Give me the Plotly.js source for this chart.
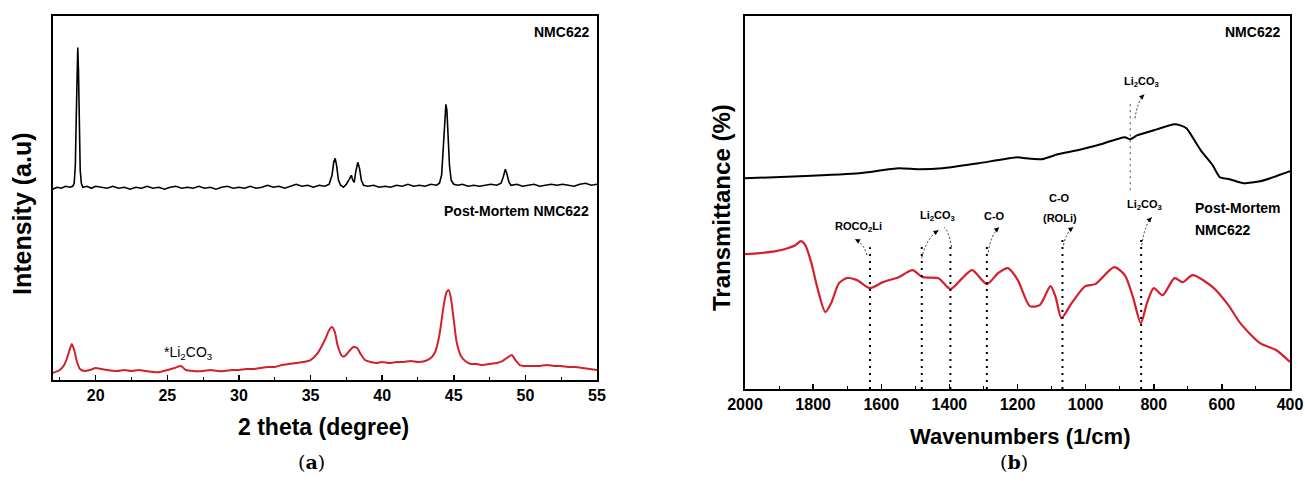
<!DOCTYPE html>
<html>
<head>
<meta charset="utf-8">
<script src="https://cdn.plot.ly/plotly-3.0.1.min.js"></script>
<style>html,body{margin:0;padding:0;background:#fff;}#chart{width:1305px;height:481px;}</style>
</head>
<body>
<div id="chart"></div>
<script>
// ---------- (a) XRD data ----------
const ncmTheta = [17.0,17.3,17.6,17.9,18.2,18.4,18.5,18.58,18.64,18.7,18.75,18.8,18.86,18.92,19.0,19.1,19.4,19.7,20.0,20.4,20.8,21.2,21.6,22.0,22.4,22.8,23.2,23.6,24.0,24.4,24.8,25.2,25.6,26.0,26.4,26.8,27.2,27.6,28.0,28.4,28.8,29.2,29.6,30.0,30.4,30.8,31.2,31.6,32.0,32.4,32.8,33.2,33.6,34.0,34.4,34.8,35.2,35.6,36.0,36.3,36.5,36.62,36.72,36.82,36.95,37.1,37.3,37.5,37.7,37.85,37.95,38.05,38.15,38.3,38.42,38.55,38.7,39.0,39.4,39.8,40.2,40.6,41.0,41.4,41.8,42.2,42.6,43.0,43.4,43.8,44.0,44.15,44.28,44.38,44.45,44.52,44.6,44.7,44.82,45.0,45.3,45.6,46.0,46.4,46.8,47.2,47.6,48.0,48.3,48.45,48.6,48.72,48.85,49.0,49.4,49.8,50.2,50.6,51.0,51.4,51.8,52.2,52.6,53.0,53.4,53.8,54.2,54.6,55.0];
const ncmIntensity = [191,193,192,194,193,194,197,215,260,315,333,310,250,210,197,193,194,192,194,193,192,194,192,193,191,193,192,194,192,193,191,193,194,192,193,192,194,192,193,191,193,194,192,193,192,194,192,193,195,193,194,192,194,196,194,195,193,195,194,196,205,218,222,215,200,195,193,196,201,205,200,198,208,218,212,200,195,194,195,193,194,193,195,194,196,194,195,194,196,195,197,205,235,265,276,270,245,215,200,196,195,196,194,195,194,195,196,195,197,203,211,206,198,195,196,194,195,196,194,195,196,195,196,195,194,196,197,195,196];
const pmTheta = [17.0,17.5,17.8,18.0,18.2,18.34,18.5,18.7,18.9,19.2,19.6,20.0,20.4,20.8,21.5,22.0,22.5,23.0,23.5,24.0,24.5,25.0,25.5,25.95,26.3,26.8,27.5,28.0,28.5,29.0,29.5,30.0,30.5,31.0,31.5,32.0,32.5,33.0,33.5,34.0,34.5,35.0,35.5,36.0,36.3,36.5,36.7,36.9,37.2,37.4,37.7,38.0,38.25,38.5,38.8,39.2,39.6,40.0,40.5,41.0,41.5,42.0,42.5,43.0,43.4,43.7,44.0,44.3,44.5,44.65,44.8,45.0,45.2,45.5,45.8,46.2,46.6,47.0,47.5,48.0,48.4,48.7,49.05,49.3,49.6,50.0,50.5,51.0,51.5,52.0,52.5,53.0,53.5,54.0,54.5,55.0];
const pmIntensity = [7,10,15,22,31,36,30,18,11,9,10,12,11,10,9,10,9,10,9,8,8,10,12,14,10,9,9,10,9,9,10,10,11,11,12,13,13,15,16,17,18,20,27,40,50,53,48,34,24,24,29,33,32,26,20,18,17,18,17,18,18,19,18,19,22,28,45,75,88,90,82,60,38,24,19,16,16,15,16,17,19,22,25,20,15,14,14,14,15,14,14,13,13,12,11,10];
const xrdTickVals = [20,25,30,35,40,45,50,55];
const xrdTickText = ['20','25','30','35','40','45','50','55'];
const xrdMinorVals = [17.5,22.5,27.5,32.5,37.5,42.5,47.5,52.5];

// ---------- (b) FTIR data ----------
const ftNcmWn = [2000,1840,1665,1549,1490,1420,1315,1199,1176,1130,1082,1024,966,885,869,849,791,740,722,704,662,627,606,577,536,487,441,400];
const ftNcmT  = [211,213,216,221,220,221,226,232,231,230,235,239,244,252,250,254,260,265,264,261,239,224,212,210,206,208,213,218];
const ftPmWn = [2000,1957,1910,1875,1852,1836,1823,1805,1788,1764,1747,1724,1701,1671,1633,1595,1549,1508,1479,1432,1397,1362,1333,1290,1257,1228,1199,1164,1135,1103,1088,1071,1041,1001,972,916,885,861,838,820,800,774,739,715,686,627,581,546,488,441,400];
const ftPmT  = [135,136,138,141,144,148,144,126,102,77,86,106,111,109,101,107,112,119,112,111,100,111,119,105,116,121,109,83,84,103,92,71,86,103,105,122,114,92,66,86,101,94,111,107,114,102,84,66,46,39,27];
const ftTickVals = [2000,1800,1600,1400,1200,1000,800,600,400];
const ftTickText = ['2000','1800','1600','1400','1200','1000','800','600','400'];
const ftMinorVals = [1900,1700,1500,1300,1100,900,700,500];

// band markers (post-mortem)
const bandWn  = [1633,1481,1397,1290,1068,837];
const bandTop = [142,147,144,147,152,154];
// band marker (pristine)
const upperBandWn = 869;
const upperBandRange = [199,286];

// label texts
const xrdLabels = ['NMC622','Post-Mortem NMC622','*Li<sub>2</sub>CO<sub>3</sub>'];
const ftLabels = ['ROCO<sub>2</sub>Li','Li<sub>2</sub>CO<sub>3</sub>','C-O','C-O','(ROLi)','Li<sub>2</sub>CO<sub>3</sub>','Li<sub>2</sub>CO<sub>3</sub>','NMC622','Post-Mortem','NMC622'];
const ftLabelWn = [1668,1434,1269,1076,1076,826,837,423,686,686];
const ftLabelT  = [162,173,173,191,171,184,307,357,181,159];
// arrows: tail (on band line) -> tip (at label)
const arrowTailWn = [1642,1481,1394,1286,1065,835,855];
const arrowTailT  = [134,131,142,137,144,144,271];
const arrowTipWn  = [1677,1432,1415,1254,1036,806,828];
const arrowTipT   = [150,159,162,162,162,172,295];

const FONT = 'Liberation Sans, Arial, sans-serif';
const RED = '#d4202b';

const traces = [
  {x: ncmTheta, y: ncmIntensity, xaxis:'x', yaxis:'y', type:'scatter', mode:'lines',
   line:{color:'#000', width:1.6}, hoverinfo:'skip'},
  {x: pmTheta, y: pmIntensity, xaxis:'x', yaxis:'y', type:'scatter', mode:'lines',
   line:{color:RED, width:2, shape:'spline', smoothing:0.6}, hoverinfo:'skip'},
  {x: ftNcmWn, y: ftNcmT, xaxis:'x2', yaxis:'y2', type:'scatter', mode:'lines',
   line:{color:'#000', width:2, shape:'spline', smoothing:0.5}, hoverinfo:'skip'},
  {x: ftPmWn, y: ftPmT, xaxis:'x2', yaxis:'y2', type:'scatter', mode:'lines',
   line:{color:RED, width:2.2, shape:'spline', smoothing:0.7}, hoverinfo:'skip'}
];

const W = 1305, H = 481;
const px = v => v / W, py = v => (H - v) / H;
const bold = arr => arr.map(t => '<b>' + t + '</b>');

const axBase = {
  showline:true, mirror:true, linecolor:'#000', linewidth:2,
  showgrid:false, zeroline:false, ticks:'inside', ticklen:5, tickwidth:1.5, tickcolor:'#000',
  tickfont:{family:FONT, size:16, color:'#000'}
};

const layout = {
  width:W, height:H, margin:{l:0,r:0,t:0,b:0},
  paper_bgcolor:'#fff', plot_bgcolor:'#fff', showlegend:false,
  xaxis: Object.assign({}, axBase, {domain:[px(52.7), px(597)], range:[17,55],
    tickmode:'array', tickvals:xrdTickVals, ticktext:bold(xrdTickText),
    minor:{ticks:'inside', tickmode:'array', tickvals:xrdMinorVals, ticklen:3, tickwidth:1, tickcolor:'#000'}, anchor:'y'}),
  yaxis: Object.assign({}, axBase, {domain:[py(380), py(15.5)], range:[0,365], ticks:'', showticklabels:false, anchor:'x'}),
  xaxis2: Object.assign({}, axBase, {domain:[px(745), px(1290)], range:[2000,400],
    tickmode:'array', tickvals:ftTickVals, ticktext:bold(ftTickText),
    minor:{ticks:'inside', tickmode:'array', tickvals:ftMinorVals, ticklen:3, tickwidth:1, tickcolor:'#000'}, anchor:'y2'}),
  yaxis2: Object.assign({}, axBase, {domain:[py(389), py(15.5)], range:[0,374], ticks:'', showticklabels:false, anchor:'x2'}),
  shapes: [], annotations: []
};

// titles
const titleFont = s => ({family:FONT, size:s, color:'#000'});
const paperNote = (x, y, text, font, extra) => Object.assign({xref:'paper', yref:'paper', x:px(x), y:py(y),
  xanchor:'center', yanchor:'middle', text:text, showarrow:false, font:font}, extra || {});
const capFont = {family:'DejaVu Serif, Liberation Serif, serif', size:19, color:'#000'};
layout.annotations.push(
  paperNote(323, 427, '<b>2 theta (degree)</b>', titleFont(23)),
  paperNote(1020, 436, '<b>Wavenumbers (1/cm)</b>', titleFont(22)),
  paperNote(22, 214, '<b>Intensity (a.u)</b>', titleFont(25), {textangle:-90}),
  paperNote(721, 208, '<b>Transmittance (%)</b>', titleFont(24), {textangle:-90}),
  paperNote(311, 462, '(<b>a</b>)', capFont),
  paperNote(1014, 462, '(<b>b</b>)', capFont)
);

// XRD labels
layout.annotations.push(
  {xref:'x', yref:'y', x:54.6, y:348, xanchor:'right', yanchor:'middle', text:'<b>' + xrdLabels[0] + '</b>', showarrow:false, font:{family:FONT, size:14, color:'#000'}},
  {xref:'x', yref:'y', x:54.6, y:169, xanchor:'right', yanchor:'middle', text:'<b>' + xrdLabels[1] + '</b>', showarrow:false, font:{family:FONT, size:14, color:'#000'}},
  {xref:'x', yref:'y', x:26.5, y:27, xanchor:'center', yanchor:'middle', text:xrdLabels[2], showarrow:false, font:{family:FONT, size:14, color:'#000'}}
);

// FTIR labels
ftLabels.forEach((t,i) => {
  const big = i >= 7;
  layout.annotations.push({
    xref:'x2', yref:'y2', x:ftLabelWn[i], y:ftLabelT[i], text:'<b>' + t + '</b>', showarrow:false,
    xanchor: i === 7 ? 'right' : (i >= 8 ? 'left' : 'center'), yanchor:'middle',
    font:{family:FONT, size: big ? 14 : 11, color:'#000'}
  });
});

// band dotted lines
bandWn.forEach((w,i) => {
  layout.shapes.push({type:'line', xref:'x2', yref:'y2', x0:w, x1:w, y0:0, y1:bandTop[i],
    line:{color:'#000', width:2, dash:'2px,5px'}});
});
layout.shapes.push({type:'line', xref:'x2', yref:'y2', x0:upperBandWn, x1:upperBandWn,
  y0:upperBandRange[0], y1:upperBandRange[1], line:{color:'#666', width:1.2, dash:'2px,4px'}});

// curved dotted arrows
arrowTailWn.forEach((tw,i) => {
  const tt = arrowTailT[i], hw = arrowTipWn[i], ht = arrowTipT[i];
  const cw = tw*0.75 + hw*0.25, ct = tt*0.3 + ht*0.7;
  layout.shapes.push({type:'path', xref:'x2', yref:'y2',
    path:`M ${tw},${tt} Q ${cw},${ct} ${hw},${ht}`,
    line:{color:'#333', width:1, dash:'2px,2px'}});
  layout.annotations.push({xref:'x2', yref:'y2', axref:'x2', ayref:'y2',
    x:hw, y:ht, ax: hw + (cw-hw)*0.35, ay: ht + (ct-ht)*0.35, text:'', showarrow:true,
    arrowhead:2, arrowsize:0.9, arrowwidth:1.1, arrowcolor:'#000', standoff:0});
});

Plotly.newPlot('chart', traces, layout, {staticPlot:true});
</script>
</body>
</html>
